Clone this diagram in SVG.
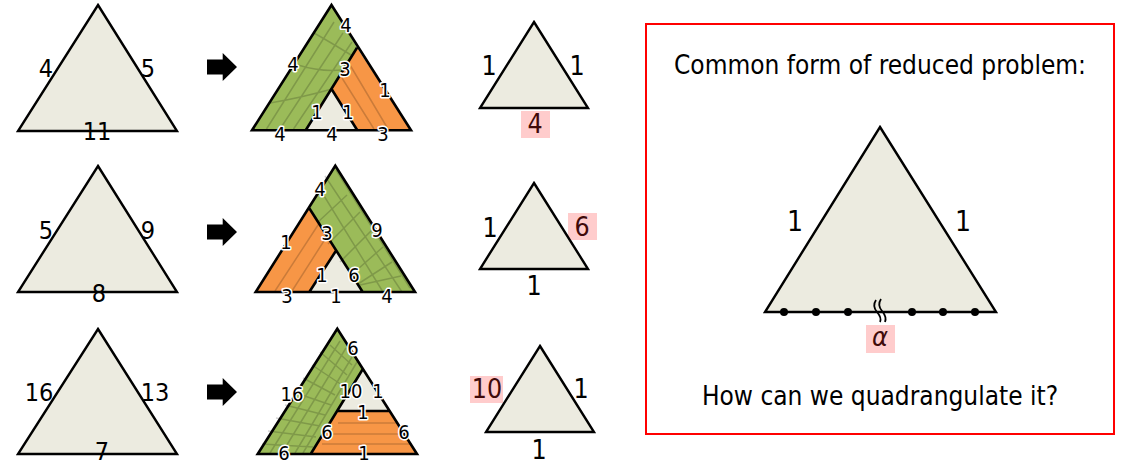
<svg xmlns="http://www.w3.org/2000/svg" width="1122" height="466" viewBox="0 0 1122 466">
<style>
text{font-family:"DejaVu Sans Condensed","DejaVu Sans",sans-serif;font-stretch:condensed;fill:#000;text-anchor:middle}
.t{fill:#ecebe0;stroke:#000;stroke-width:2.400;stroke-linejoin:miter}
.g{fill:#9bbb59}.o{fill:#f79646}.w{fill:#ecebe0}
.f{fill:none;stroke:#000;stroke-width:2.600}
.m{fill:none;stroke:#000;stroke-opacity:.18;stroke-width:1.500}
.l{font-size:25px}
.h{font-size:20px;stroke:#fff;stroke-width:3;paint-order:stroke;stroke-linejoin:round}
.r{font-size:26.500px}
.d{fill:#400a0a}
.p{font-size:26px}
.k{fill:#ffcccc}
</style>
<defs>
<path id="a" d="M207 -7.500H222.700V-14L237 0L222.700 14V7.500H207Z" fill="#000"/>
</defs>
<g id="connectors">
<use href="#a" y="67"/><use href="#a" y="232"/><use href="#a" y="392"/>
</g>
<g id="tri1">
<path class="t" d="M98 5L177 131H18Z"/>
<text class="l" x="46" y="77">4</text><text class="l" x="148" y="77">5</text><text class="l" x="97" y="140">11</text>
</g>
<g id="tri2">
<path class="t" d="M98 166L177 292H18Z"/>
<text class="l" x="46" y="239">5</text><text class="l" x="148" y="239">9</text><text class="l" x="99" y="302">8</text>
</g>
<g id="tri3">
<path class="t" d="M98 329L177 454H18Z"/>
<text class="l" x="39" y="401">16</text><text class="l" x="155" y="401">13</text><text class="l" x="102" y="460">7</text>
</g>
<g id="mid1">
<path class="g" d="M331.500 5L357 47.700L305.700 130.300H252Z"/>
<path class="o" d="M357 47.700L411 130.300H357.300L331.700 89.300Z"/>
<path class="w" d="M331.700 89.300L357.300 130.300H305.700Z"/>
<path class="m" d="M266.500 129L334 22M280 129L343 33M293.500 129L352 42M314 33Q330 42 351 55M298 65Q320 72 342 70M270 103Q300 98 332 89M342 78L374 129M350 65L388 129"/>
<path class="f" d="M331.500 5L411 130.300H252ZM357 47.700L305.700 130.300M331.700 89.300L357.300 130.300"/>
<text class="h" x="346" y="32">4</text><text class="h" x="293" y="71">4</text><text class="h" x="345" y="76">3</text><text class="h" x="385" y="97">1</text><text class="h" x="317" y="119">1</text><text class="h" x="348" y="119">1</text><text class="h" x="280" y="141">4</text><text class="h" x="332" y="141">4</text><text class="h" x="383" y="141">3</text>
</g>
<g id="mid2">
<path class="g" d="M335.300 165.700L415 292H362.700L309.300 208.300Z"/>
<path class="o" d="M309.300 208.300L336 250.700L309.300 292H255.700Z"/>
<path class="w" d="M336 250.700L362.700 292H309.300Z"/>
<path class="m" d="M275 291L320 222M292 291L329 233M325 176L402 292M318 186L383 292M336 170L410 288M347 195L318 222M360 212L328 244M372 230L340 262M383 247L350 276M392 262L358 284M401 276L360 285"/>
<path class="f" d="M335.300 165.700L415 292H255.700ZM309.300 208.300L362.700 292M336 250.700L309.300 292"/>
<text class="h" x="320" y="196">4</text><text class="h" x="377" y="237">9</text><text class="h" x="286" y="249">1</text><text class="h" x="327" y="240">3</text><text class="h" x="322" y="282">1</text><text class="h" x="354" y="282">6</text><text class="h" x="287" y="303">3</text><text class="h" x="336" y="303">1</text><text class="h" x="387" y="303">4</text>
</g>
<g id="mid3">
<path class="g" d="M337.300 328.700L362.700 369.300L310.700 454H257.700Z"/>
<path class="w" d="M362.700 369.300L389 411H336.700Z"/>
<path class="o" d="M336.700 411H389L417 454H310.700Z"/>
<path class="m" d="M270 453L340 341M282 453L346 348M295 453L352 357M303 453L357 362M330 345L352 365M320 352L347 375M312 365L342 385M303 378L335 395M293 392L331 405M285 405L325 415M276 418L320 426M268 431L316 437M262 444L313 447M338 423H398M331 434H405M322 444H412"/>
<path class="f" d="M337.300 328.700L417 454H257.700ZM362.700 369.300L310.700 454M336.700 411H389"/>
<text class="h" x="353" y="355">6</text><text class="h" x="292" y="401">16</text><text class="h" x="351" y="398">10</text><text class="h" x="378" y="398">1</text><text class="h" x="363" y="419">1</text><text class="h" x="327" y="439">6</text><text class="h" x="404" y="439">6</text><text class="h" x="284" y="460">6</text><text class="h" x="364" y="460">1</text>
</g>
<g id="red1">
<path class="t" d="M534 22L588 108H480Z"/>
<text class="r" x="489" y="75">1</text><text class="r" x="577" y="75">1</text>
<rect class="k" x="521" y="111" width="29" height="27"/><text class="r d" x="535" y="133">4</text>
</g>
<g id="red2">
<rect class="k" x="568" y="213" width="29" height="27"/><text class="r d" x="582" y="236">6</text>
<path class="t" d="M534 183L588 269H480Z"/>
<text class="r" x="490" y="237">1</text>
<text class="r" x="534" y="295">1</text>
</g>
<g id="red3">
<rect class="k" x="470" y="376" width="33" height="27"/><text class="r d" x="487" y="398">10</text>
<path class="t" d="M540 346L594 432H486Z"/>
<text class="r" x="581" y="398">1</text><text class="r" x="539" y="459">1</text>
</g>
<g id="panel">
<rect x="646" y="24" width="468" height="410" fill="#fff" stroke="#ff0000" stroke-width="2"/>
<text class="p" x="880" y="74">Common form of reduced problem:</text>
<path class="t" d="M880 127L996 312H765Z"/>
<text class="r" x="795" y="231" style="font-size:28px">1</text><text class="r" x="963" y="231" style="font-size:28px">1</text>
<g fill="#000"><circle cx="784" cy="312" r="4"/><circle cx="816" cy="312" r="4"/><circle cx="848" cy="312" r="4"/><circle cx="912" cy="312" r="4"/><circle cx="943" cy="312" r="4"/><circle cx="975" cy="312" r="4"/></g>
<path d="M876 300Q872 306 877 312T880 322M881 299Q877 305 882 311T885 322" fill="none" stroke="#000" stroke-width="1.800"/>
<rect class="k" x="866" y="325" width="29" height="28"/>
<text class="d" x="880" y="346" style="font-size:27px;font-style:italic">α</text>
<text class="p" x="880" y="405">How can we quadrangulate it?</text>
</g>
</svg>
